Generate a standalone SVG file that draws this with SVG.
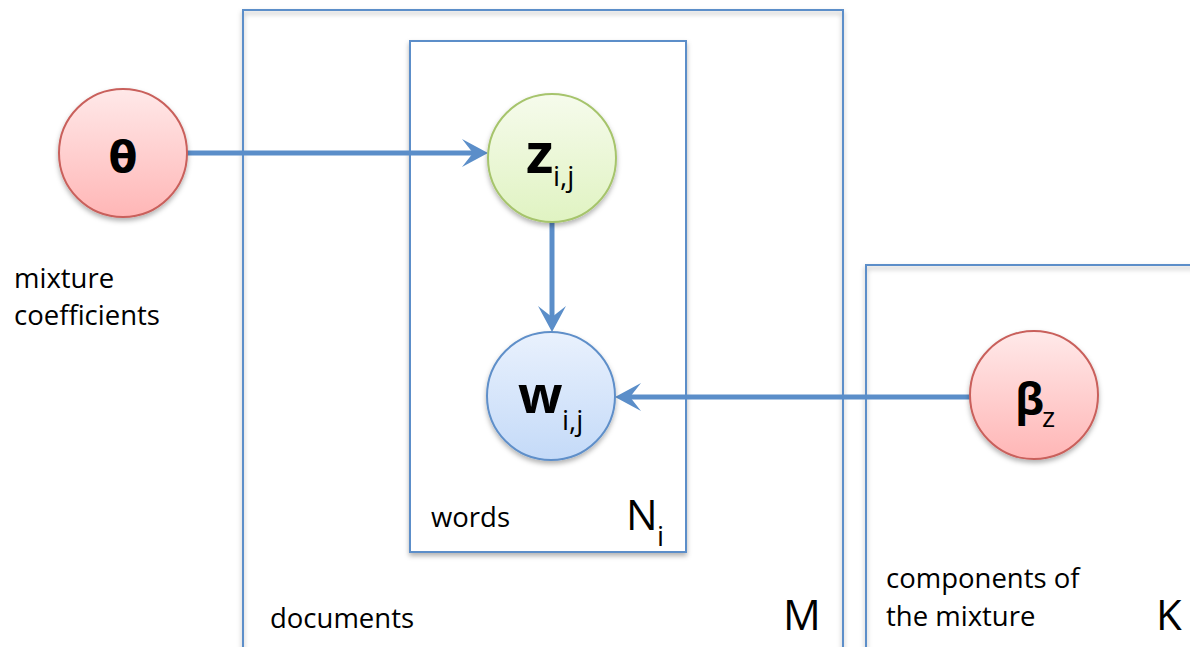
<svg xmlns="http://www.w3.org/2000/svg" width="1190" height="647" viewBox="0 0 1190 647">
  <style>
    .plate { fill: none; stroke: #5b8ec9; stroke-width: 2; filter: url(#shadow); }
    .edge { fill: none; stroke: #5b8ec9; stroke-width: 5; }
    .label { font-family: "Open Sans", "Liberation Sans", sans-serif; font-size: 27.5px; fill: #000; }
    .count { font-family: "Open Sans", "Liberation Sans", sans-serif; font-size: 42px; fill: #000; }
    .sym { font-family: "Open Sans", "Liberation Sans", sans-serif; font-weight: bold; fill: #000; }
    .sub { font-family: "Open Sans", "Liberation Sans", sans-serif; font-size: 28px; fill: #000; }
  </style>
  <defs>
    <filter id="shadow" x="-20%" y="-20%" width="140%" height="140%">
      <feDropShadow dx="0" dy="3" stdDeviation="2.5" flood-color="#000" flood-opacity="0.3"/>
    </filter>
    <linearGradient id="redFill" x1="0" y1="0" x2="0" y2="1">
      <stop offset="0" stop-color="#ffe9e9"/>
      <stop offset="1" stop-color="#ffb6b6"/>
    </linearGradient>
    <linearGradient id="greenFill" x1="0" y1="0" x2="0" y2="1">
      <stop offset="0" stop-color="#f6fbec"/>
      <stop offset="1" stop-color="#e0f3c2"/>
    </linearGradient>
    <linearGradient id="blueFill" x1="0" y1="0" x2="0" y2="1">
      <stop offset="0" stop-color="#e9f1fd"/>
      <stop offset="1" stop-color="#c4daf8"/>
    </linearGradient>
    <marker id="head" markerUnits="userSpaceOnUse" markerWidth="32" markerHeight="32"
            viewBox="-2 -16 32 32" refX="11" refY="0" orient="auto">
      <path d="M0,-14 L26,0 L0,14 L11,0 Z" fill="#5b8ec9"/>
    </marker>
  </defs>

  <rect width="1190" height="647" fill="#ffffff"/>

  <!-- plates -->
  <g id="plate-documents">
    <rect class="plate" x="243" y="10" width="600" height="700"/>
    <text class="label" x="270" y="628">documents</text>
    <text class="count" x="783" y="630">M</text>
  </g>
  <g id="plate-words">
    <rect class="plate" x="410" y="41" width="276" height="511" style="fill:#ffffff"/>
    <text class="label" x="431" y="527">words</text>
    <text class="count" x="626" y="530">N</text>
    <text class="sub" x="657" y="546">i</text>
  </g>
  <g id="plate-components">
    <rect class="plate" x="866" y="265" width="400" height="500"/>
    <text class="label" x="886" y="588">components of</text>
    <text class="label" x="886" y="626">the mixture</text>
    <text class="count" x="1156" y="630">K</text>
  </g>

  <!-- connectors -->
  <g id="connectors">
    <line class="edge" x1="187" y1="153" x2="473" y2="153" marker-end="url(#head)"/>
    <line class="edge" x1="552" y1="222" x2="552" y2="317" marker-end="url(#head)"/>
    <line class="edge" x1="970" y1="397" x2="630" y2="397" marker-end="url(#head)"/>
  </g>

  <!-- nodes -->
  <g id="node-theta">
    <circle cx="123" cy="153" r="64" fill="url(#redFill)" stroke="#c9605b" stroke-width="2" filter="url(#shadow)"/>
    <text x="123" y="172" text-anchor="middle" font-family="DejaVu Sans, sans-serif" font-weight="bold" font-size="42">θ</text>
  </g>
  <text class="label" x="14" y="288">mixture</text>
  <text class="label" x="14" y="325">coefficients</text>

  <g id="node-z">
    <circle cx="552" cy="158" r="64" fill="url(#greenFill)" stroke="#a6c46c" stroke-width="2" filter="url(#shadow)"/>
    <text class="sym" x="526" y="173" font-size="56">z</text>
    <text class="sub" x="553" y="186">i,j</text>
  </g>

  <g id="node-w">
    <circle cx="551" cy="396" r="64" fill="url(#blueFill)" stroke="#5f8fc9" stroke-width="2" filter="url(#shadow)"/>
    <text class="sym" x="518" y="413" font-size="52">w</text>
    <text class="sub" x="562" y="430">i,j</text>
  </g>

  <g id="node-beta">
    <circle cx="1034" cy="395" r="64" fill="url(#redFill)" stroke="#c9605b" stroke-width="2" filter="url(#shadow)"/>
    <text class="sym" x="1015" y="415" font-size="44">β</text>
    <text class="sub" x="1042" y="427" font-size="24">z</text>
  </g>
</svg>
